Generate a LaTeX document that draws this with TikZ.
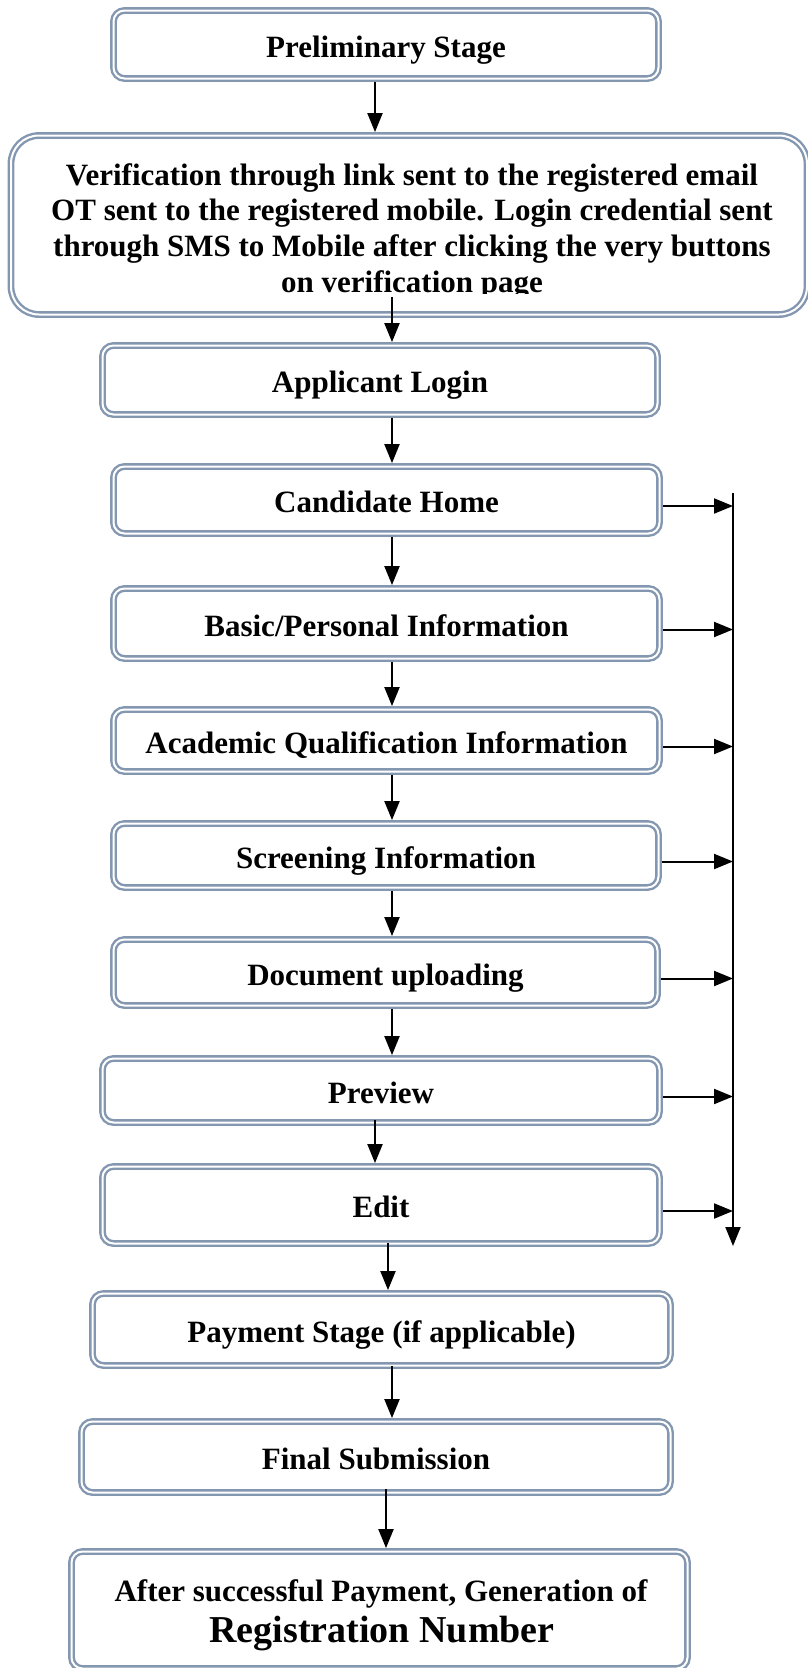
\documentclass[tikz,border=0pt]{standalone}
\usepackage{fontspec}
\setmainfont{Liberation Serif}
\usetikzlibrary{arrows.meta,calc}
\definecolor{bcol}{RGB}{132,151,176}
\begin{document}
\begin{tikzpicture}[x=1pt,y=-1pt,
  fbox/.style={draw=bcol, line width=2.4pt, double=white, double distance=2pt,
    rounded corners=11pt, inner sep=0pt, outer sep=3.4pt,
    font=\bfseries\fontsize{31}{36}\selectfont, text height=27pt, text depth=2pt, align=center},
  arr/.style={line width=2pt, -{Triangle[length=19pt,width=15pt]}},
  ltxt/.style={anchor=base, inner sep=0pt, font=\bfseries\fontsize{31}{36}\selectfont}]
\fill[white] (0,0) rectangle (808,1668);
\useasboundingbox (0,0) rectangle (808,1668);
% boxes
\node[fbox, minimum width=545pt, minimum height=68pt] (b1) at (386,44.5) {Preliminary Stage};
\node[fbox, rounded corners=28pt, minimum width=796pt, minimum height=179pt] (b2) at (409,225) {};
\begin{scope}
\clip (0,0) rectangle (808,293);
\node[ltxt] (t2a) at (412,185) {Verification through link sent to the registered email};
\node[ltxt] (t2b) at (412,220.7) {OT sent to the registered mobile. Login credential sent};
\node[ltxt] (t2c) at (412,256.4) {through SMS to Mobile after clicking the very buttons};
\node[ltxt] (t2d) at (412,292) {on verification page};
\end{scope}
\node[fbox, minimum width=555pt, minimum height=69pt] (b3) at (380,380) {Applicant Login};
\node[fbox, minimum width=546pt, minimum height=67pt] (b4) at (386.5,500) {Candidate Home};
\node[fbox, minimum width=546pt, minimum height=70pt] (b5) at (386.5,623.5) {Basic/Personal Information};
\node[fbox, minimum width=546pt, minimum height=62pt] (b6) at (386.5,740.5) {Academic Qualification Information};
\node[fbox, minimum width=545pt, minimum height=64pt] (b7) at (386,855.5) {Screening Information};
\node[fbox, minimum width=544pt, minimum height=66pt] (b8) at (385.5,972.5) {Document uploading};
\node[fbox, minimum width=557pt, minimum height=64pt] (b9) at (381,1090.5) {Preview};
\node[fbox, minimum width=557pt, minimum height=77pt] (b10) at (381,1205) {Edit};
\node[fbox, minimum width=578pt, minimum height=72pt] (b11) at (381.5,1329.5) {Payment Stage (if applicable)};
\node[fbox, minimum width=589pt, minimum height=71pt] (b12) at (376,1457) {Final Submission};
\node[fbox, minimum width=616pt, minimum height=117pt] (b13) at (379.5,1610) {};
\node[ltxt] (t13a) at (381,1601) {After successful Payment, Generation of};
\node[ltxt, font=\bfseries\fontsize{38}{42}\selectfont] (t13b) at (382,1642) {Registration Number};
% x positions of the vertical connectors
\coordinate (cA) at (375,0);
\coordinate (cB) at (392,0);
\coordinate (cC) at (388,0);
\coordinate (cD) at (386,0);
% down arrows
\draw[arr] (b1.south -| cA) -- (b2.north -| cA);
\draw[arr] ([yshift=21pt]b2.south -| cB) -- (b3.north -| cB);
\draw[arr] (b3.south -| cB) -- (b4.north -| cB);
\draw[arr] (b4.south -| cB) -- (b5.north -| cB);
\draw[arr] (b5.south -| cB) -- (b6.north -| cB);
\draw[arr] (b6.south -| cB) -- (b7.north -| cB);
\draw[arr] (b7.south -| cB) -- (b8.north -| cB);
\draw[arr] (b8.south -| cB) -- (b9.north -| cB);
\draw[arr] ([yshift=6pt]b9.south -| cA) -- (b10.north -| cA);
\draw[arr] ([yshift=4pt]b10.south -| cC) -- (b11.north -| cC);
\draw[arr] ([yshift=3pt]b11.south -| cB) -- (b12.north -| cB);
\draw[arr] ([yshift=7pt]b12.south -| cD) -- (b13.north -| cD);
% right bus
\coordinate (vtop) at (733,493);
\coordinate (vbot) at (733,1246);
\draw[arr] (vtop) -- (vbot);
\foreach \b in {b4,b5,b6,b7,b8,b9,b10}{
  \draw[arr] ([yshift=-6pt]\b.east) -- ([yshift=-6pt]\b.east -| vtop);
}
\end{tikzpicture}
\end{document}
